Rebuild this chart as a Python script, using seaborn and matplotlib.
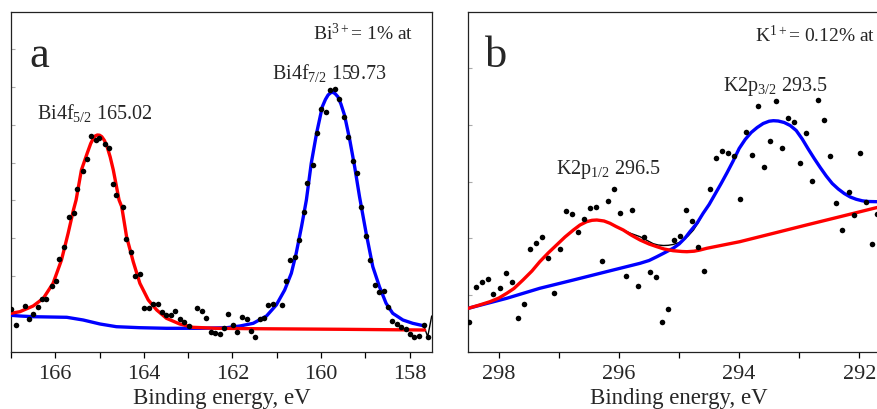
import numpy as np
import pandas as pd
import matplotlib
matplotlib.use("Agg")
import matplotlib.pyplot as plt
from matplotlib.ticker import MultipleLocator, FuncFormatter
import seaborn as sns

# ---------------- Panel a : Bi4f ----------------
bi_data_energy = [167.00, 166.89, 166.69, 166.59, 166.50, 166.38, 166.29, 166.20, 166.08, 165.99,
                  165.91, 165.80, 165.69, 165.58, 165.50, 165.38, 165.28, 165.20, 165.08, 165.02,
                  164.88, 164.78, 164.69, 164.62, 164.47, 164.41, 164.29, 164.20, 164.09, 163.99,
                  163.89, 163.79, 163.68, 163.59, 163.49, 163.39, 163.29, 163.19, 163.09, 162.99,
                  162.79, 162.69, 162.59, 162.49, 162.40, 162.29, 162.19, 162.10, 161.99, 161.90,
                  161.78, 161.68, 161.59, 161.50, 161.38, 161.29, 161.19, 161.08, 160.89, 160.80,
                  160.69, 160.59, 160.50, 160.39, 160.32, 160.18, 160.10, 159.99, 159.88, 159.79,
                  159.69, 159.59, 159.48, 159.39, 159.28, 159.19, 159.09, 158.99, 158.90, 158.79,
                  158.69, 158.58, 158.49, 158.39, 158.29, 158.19, 158.09, 157.98, 157.89, 157.79,
                  157.68, 157.59]
bi_data_intensity = [42.7, 26.7, 45.7, 32.7, 37.7, 45.3, 52.7, 53.3, 66.0, 71.3,
                     92.7, 104.7, 134.7, 138.7, 163.0, 181.0, 193.0, 216.3, 212.0, 213.7,
                     207.7, 204.3, 167.7, 157.0, 145.3, 113.3, 99.7, 76.0, 78.0, 44.3,
                     44.3, 47.7, 47.7, 40.3, 37.0, 37.0, 41.0, 32.7, 30.3, 26.0,
                     44.3, 41.0, 33.7, 20.3, 19.3, 18.0, 24.3, 37.7, 27.0, 20.3,
                     34.7, 32.7, 21.3, 15.3, 33.3, 34.3, 47.0, 47.7, 47.0, 71.3,
                     92.0, 94.7, 112.0, 140.3, 169.3, 187.0, 218.7, 242.7, 240.3, 262.0,
                     263.0, 253.0, 235.3, 215.3, 191.3, 179.3, 144.7, 116.3, 92.0, 67.0,
                     60.3, 61.3, 44.7, 31.3, 28.0, 25.3, 22.7, 17.7, 15.3, 16.0,
                     27.0, 15.3]

bi_f52_energy = [167.00, 166.80, 166.50, 166.27, 166.05, 165.86, 165.71, 165.59, 165.53, 165.41,
                 165.28, 165.20, 165.14, 165.10, 165.05, 165.00, 164.95, 164.89, 164.83, 164.76,
                 164.69, 164.56, 164.50, 164.39, 164.24, 164.09, 163.90, 163.71, 163.49, 163.19,
                 162.89, 162.36, 161.50, 160.50, 159.50, 158.50, 157.66]
bi_f52_intensity = [38.7, 40.3, 46.0, 53.7, 68.7, 92.0, 118.7, 142.0, 152.0, 182.0,
                    198.7, 208.5, 213.7, 216.0, 217.0, 216.8, 215.3, 211.5, 205.3, 195.0,
                    182.0, 152.0, 145.3, 115.3, 90.3, 68.7, 52.0, 42.0, 33.7, 28.0,
                    24.7, 23.7, 23.3, 23.0, 22.7, 22.3, 22.0]

bi_f72_energy = [167.00, 166.80, 166.50, 165.74, 165.37, 164.99, 164.62, 164.09, 163.49, 162.74,
                 162.13, 161.83, 161.53, 161.23, 161.01, 160.82, 160.67, 160.56, 160.44, 160.33,
                 160.22, 160.10, 159.97, 159.90, 159.84, 159.78, 159.73, 159.68, 159.62, 159.55,
                 159.47, 159.35, 159.24, 159.13, 158.98, 158.83, 158.68, 158.53, 158.38, 158.15,
                 157.93, 157.66]
bi_f72_intensity = [36.7, 36.0, 35.3, 34.7, 32.0, 28.0, 25.3, 24.3, 23.7, 23.7,
                    24.3, 26.0, 28.7, 36.0, 47.0, 62.0, 78.7, 98.7, 125.3, 152.0,
                    188.7, 218.7, 245.3, 252.5, 257.0, 259.3, 259.7, 258.3, 255.3, 248.0,
                    237.0, 212.0, 185.3, 155.3, 118.7, 85.3, 65.3, 48.7, 38.7, 32.0,
                    28.7, 26.0]

bi_env_energy = [157.67, 157.59, 157.50]
bi_env_intensity = [25.0, 15.3, 36.0]

# ---------------- Panel b : K2p ----------------
k_data_energy = [298.50, 298.39, 298.29, 298.19, 298.10, 297.98, 297.89, 297.79, 297.69, 297.58,
                 297.48, 297.38, 297.29, 297.19, 297.08, 296.98, 296.88, 296.78, 296.68, 296.59,
                 296.49, 296.39, 296.29, 296.18, 296.09, 295.99, 295.89, 295.78, 295.68, 295.59,
                 295.49, 295.39, 295.29, 295.19, 295.09, 294.99, 294.89, 294.79, 294.69, 294.59,
                 294.49, 294.38, 294.28, 294.18, 294.09, 293.99, 293.89, 293.78, 293.68, 293.59,
                 293.49, 293.38, 293.29, 293.18, 293.08, 292.99, 292.89, 292.78, 292.68, 292.58,
                 292.48, 292.38, 292.28, 292.17, 292.08, 291.98, 291.88, 291.79, 291.70]
k_data_intensity = [29.7, 65.3, 70.3, 72.7, 58.0, 64.3, 79.3, 70.0, 34.0, 47.7,
                    103.0, 108.7, 115.3, 94.3, 58.7, 102.7, 141.0, 137.7, 119.7, 133.0,
                    143.7, 145.3, 90.7, 151.0, 162.7, 139.3, 75.7, 141.7, 66.3, 115.0,
                    79.7, 75.3, 29.7, 43.0, 112.0, 116.3, 142.0, 131.3, 104.7, 81.0,
                    162.7, 193.7, 201.3, 198.7, 196.0, 153.0, 220.3, 197.0, 246.0, 184.7,
                    211.0, 251.0, 204.3, 233.7, 230.3, 189.3, 219.3, 171.0, 252.0, 232.0,
                    196.0, 149.0, 122.0, 160.3, 137.0, 199.0, 150.0, 108.0, 138.0]

k_p32_energy = [298.51, 297.87, 297.32, 296.76, 296.21, 295.65, 295.50, 295.37, 295.25, 295.10,
                295.00, 294.90, 294.82, 294.70, 294.60, 294.50, 294.40, 294.30, 294.20, 294.10,
                294.00, 293.90, 293.80, 293.70, 293.60, 293.50, 293.43, 293.35, 293.25, 293.15,
                293.05, 292.95, 292.85, 292.75, 292.65, 292.55, 292.45, 292.35, 292.25, 292.15,
                292.05, 291.95, 291.85, 291.70, 291.50]
k_p32_intensity = [43.7, 53.7, 63.7, 72.0, 80.3, 88.7, 91.5, 95.3, 99.0, 103.7,
                   108.0, 114.0, 120.3, 129.0, 138.7, 147.5, 158.0, 168.5, 179.5, 191.0,
                   203.5, 212.5, 219.5, 224.5, 228.5, 230.8, 231.3, 231.0, 229.5, 226.5,
                   221.5, 213.0, 203.0, 193.5, 184.5, 176.0, 168.5, 163.0, 158.5, 155.0,
                   152.7, 151.2, 150.5, 150.3, 150.3]

k_p12_energy = [298.51, 298.35, 298.15, 298.00, 297.87, 297.75, 297.60, 297.45, 297.32, 297.18,
                297.04, 296.90, 296.76, 296.65, 296.54, 296.45, 296.37, 296.25, 296.15, 296.05,
                295.93, 295.80, 295.65, 295.50, 295.37, 295.25, 295.10, 294.95, 294.87, 294.75,
                294.65, 294.54, 293.99, 293.43, 292.88, 292.32, 291.69, 291.50]
k_p12_intensity = [43.7, 46.5, 50.3, 54.0, 58.7, 63.5, 72.0, 81.0, 90.3, 99.0,
                   107.0, 115.0, 122.0, 127.0, 130.3, 131.7, 132.0, 131.0, 128.7, 125.5,
                   122.0, 117.0, 112.0, 108.0, 105.3, 103.0, 101.3, 100.5, 100.3, 100.8,
                   102.0, 103.7, 110.3, 118.7, 127.0, 135.3, 144.7, 147.5]

k_env_energy = [295.93, 295.80, 295.65, 295.50, 295.43, 295.35, 295.26, 295.18, 295.10, 295.00,
                294.93, 294.85, 294.76, 294.68, 294.60]
k_env_intensity = [122.0, 118.5, 115.3, 110.5, 108.3, 107.0, 106.5, 106.7, 107.5, 109.5,
                   112.0, 116.0, 122.0, 129.5, 138.7]

# ---------------- style ----------------
sns.set_theme(style="white")
plt.rcParams['font.family'] = ['Liberation Serif', 'DejaVu Serif']
plt.rcParams['mathtext.fontset'] = 'custom'
plt.rcParams['mathtext.rm'] = 'Liberation Serif'
plt.rcParams['mathtext.it'] = 'Liberation Serif:italic'
plt.rcParams['mathtext.bf'] = 'Liberation Serif:bold'

RED = '#ff0000'
BLUE = '#0000ff'

fig = plt.figure(figsize=(8.78, 4.09), dpi=100)
ax_a = fig.add_axes([0.01253, 0.13936, 0.47916, 0.83130])
ax_b = fig.add_axes([0.53337, 0.13936, 0.47950, 0.83130])


def draw(ax, de, di, env_e, env_i, e1, i1, e2, i2):
    sns.lineplot(x=env_e, y=env_i, ax=ax, color='black', lw=1.0, estimator=None, zorder=2)
    sns.lineplot(x=e2, y=i2, ax=ax, color=BLUE, lw=2.4, estimator=None, zorder=3)
    sns.lineplot(x=e1, y=i1, ax=ax, color=RED, lw=2.4, estimator=None, zorder=4)
    sns.scatterplot(x=de, y=di, ax=ax, color='black', s=16, linewidth=0, zorder=5)


draw(ax_a, bi_data_energy, bi_data_intensity, bi_env_energy, bi_env_intensity,
     bi_f52_energy, bi_f52_intensity, bi_f72_energy, bi_f72_intensity)
draw(ax_b, k_data_energy, k_data_intensity, k_env_energy, k_env_intensity,
     k_p12_energy, k_p12_intensity, k_p32_energy, k_p32_intensity)

ax_a.set_xlim(167.0, 157.5)
ax_b.set_xlim(298.51, 291.5)

for ax, ystep in ((ax_a, 37.9), (ax_b, 56.8)):
    ax.set_ylim(0, 340)
    ax.xaxis.set_major_locator(MultipleLocator(1))
    ax.xaxis.set_major_formatter(FuncFormatter(
        lambda v, p: f"{int(round(v))}" if int(round(v)) % 2 == 0 else ""))
    ax.yaxis.set_major_locator(MultipleLocator(ystep))
    ax.set_yticklabels([])
    ax.tick_params(axis='x', direction='out', length=4, width=0.9, color='black',
                   labelsize=16, pad=5.5, bottom=True)
    ax.tick_params(axis='y', direction='in', length=3, width=0.8, color='#aaaaaa',
                   left=True, labelleft=False)
    ax.set_ylabel('')
    ax.set_xlabel('Binding energy, eV', fontsize=16.5, labelpad=3)
    for sp in ax.spines.values():
        sp.set_visible(True)
        sp.set_color('#222222')
        sp.set_linewidth(0.9)
    ax.grid(False)
    ax.set_facecolor('white')

# annotations panel a
ax_a.text(0.0428, 0.838, 'a', transform=ax_a.transAxes, fontsize=32, va='baseline', ha='left')
ax_a.text(0.9556, 0.918, r'Bi$^{3+}$= 1% at', transform=ax_a.transAxes, fontsize=14,
          va='baseline', ha='right')
ax_a.text(0.0618, 0.686, r'Bi4f$_{5/2}$ 165.02', transform=ax_a.transAxes, fontsize=14.5,
          va='baseline', ha='left')
ax_a.text(0.6204, 0.804, r'Bi4f$_{7/2}$ 159.73', transform=ax_a.transAxes, fontsize=14.5,
          va='baseline', ha='left')

# annotations panel b
ax_b.text(0.0397, 0.838, 'b', transform=ax_b.transAxes, fontsize=32, va='baseline', ha='left')
ax_b.text(0.681, 0.9126, r'K$^{1+}$= 0.12% at', transform=ax_b.transAxes, fontsize=14,
          va='baseline', ha='left')
ax_b.text(0.605, 0.7686, r'K2p$_{3/2}$ 293.5', transform=ax_b.transAxes, fontsize=14.5,
          va='baseline', ha='left')
ax_b.text(0.2083, 0.5235, r'K2p$_{1/2}$ 296.5', transform=ax_b.transAxes, fontsize=14.5,
          va='baseline', ha='left')

fig.savefig('out.png', dpi=100, facecolor='white')
